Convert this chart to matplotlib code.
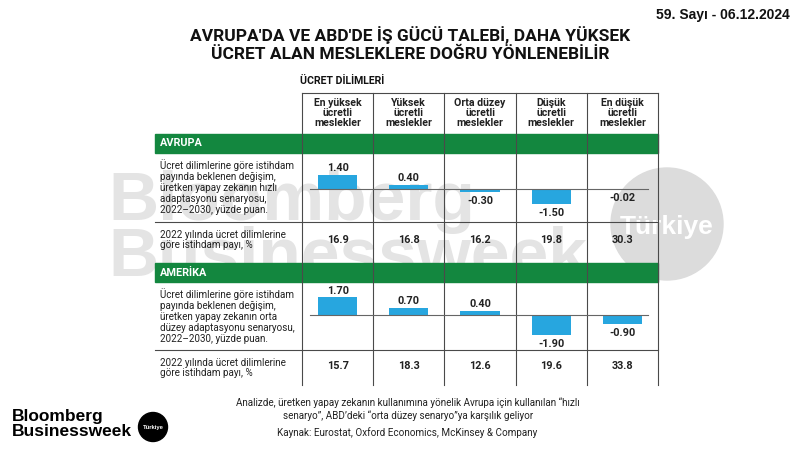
"""Bloomberg Businessweek Türkiye: expected shift in employment share by wage band."""

import matplotlib
matplotlib.use("Agg")
import matplotlib.pyplot as plt
from matplotlib import font_manager
from matplotlib.patches import Rectangle, Circle

# ---- data ----
categories = ["En yüksek\nücretli\nmeslekler", "Yüksek\nücretli\nmeslekler",
              "Orta düzey\nücretli\nmeslekler", "Düşük\nücretli\nmeslekler",
              "En düşük\nücretli\nmeslekler"]
eu_change = [1.40, 0.40, -0.30, -1.50, -0.02]
eu_share = [16.9, 16.8, 16.2, 19.8, 30.3]
us_change = [1.70, 0.70, 0.40, -1.90, -0.90]
us_share = [15.7, 18.3, 12.6, 19.6, 33.8]

eu_label = ("Ücret dilimlerine göre istihdam\npayında beklenen değişim,\n"
            "üretken yapay zekanın hızlı\nadaptasyonu senaryosu,\n2022–2030, yüzde puan.")
us_label = ("Ücret dilimlerine göre istihdam\npayında beklenen değişim,\n"
            "üretken yapay zekanın orta\ndüzey adaptasyonu senaryosu,\n2022–2030, yüzde puan.")
share_label = "2022 yılında ücret dilimlerine\ngöre istihdam payı, %"

title = "AVRUPA'DA VE ABD'DE İŞ GÜCÜ TALEBİ, DAHA YÜKSEK\nÜCRET ALAN MESLEKLERE DOĞRU YÖNLENEBİLİR"
issue = "59. Sayı - 06.12.2024"
note = ("Analizde, üretken yapay zekanın kullanımına yönelik Avrupa için kullanılan “hızlı\n"
        "senaryo”, ABD’deki “orta düzey senaryo”ya karşılık geliyor")
source = "Kaynak: Eurostat, Oxford Economics, McKinsey & Company"

# ---- style ----
available = {f.name for f in font_manager.fontManager.ttflist}
narrow = "Liberation Sans Narrow" if "Liberation Sans Narrow" in available else "Roboto"
plt.rcParams["font.family"] = [narrow, "DejaVu Sans"]

GREEN = "#13873f"
BLUE = "#27a6df"
LINE = "#4a4a4a"
TEXT = "#222222"
WATER = "#e4e4e4"

W, H = 800, 450
fig = plt.figure(figsize=(8, 4.5), dpi=100)
ax = fig.add_axes([0, 0, 1, 1])
ax.set_xlim(0, W)
ax.set_ylim(H, 0)
ax.axis("off")

# table geometry (pixels)
col_x0, col_w = 302, 71.2
n = len(categories)
col_centers = [col_x0 + col_w * (i + 0.5) for i in range(n)]
col_edges = [col_x0 + col_w * i for i in range(n + 1)]
left_x = 155
right_x = col_edges[-1]
head_top = 93

# watermark
ax.text(108, 202, "Bloomberg", fontsize=50, fontweight="bold", color=WATER,
        family="Liberation Sans", va="center", ha="left", zorder=0)
ax.text(108, 257, "Businessweek", fontsize=50, fontweight="bold", color=WATER,
        family="Liberation Sans", va="center", ha="left", zorder=0)
ax.add_patch(Circle((667, 224), 56, color="#dcdcdc", zorder=0))
ax.text(667, 227, "Türkiye", fontsize=19, fontweight="bold", color="white",
        family="Liberation Sans", ha="center", va="center", zorder=0)

# header texts
ax.text(790, 15, issue, fontsize=10, fontweight="bold", ha="right", va="center",
        color="#111111", family="Liberation Sans")
ax.text(410, 44, title, fontsize=12.5, fontweight="bold", ha="center", va="center",
        color="#111111", linespacing=1.2)
ax.text(300, 81, "ÜCRET DİLİMLERİ", fontsize=7.6, fontweight="bold", ha="left",
        va="center", color="#111111")

for cx, cat in zip(col_centers, categories):
    ax.text(cx, 113, cat, fontsize=7.6, fontweight="bold", ha="center", va="center",
            color=TEXT, linespacing=1.05)

# grid lines
ax.plot([col_x0, right_x], [head_top, head_top], color=LINE, lw=0.8, zorder=3)
for xe in col_edges:
    ax.plot([xe, xe], [head_top, 385], color=LINE, lw=0.8, zorder=3)
for yl in (222, 350):
    ax.plot([left_x, right_x], [yl, yl], color=LINE, lw=0.8, zorder=3)

# green section bands
for y0, y1, name in ((134, 153, "AVRUPA"), (263, 282, "AMERİKA")):
    ax.add_patch(Rectangle((left_x, y0), right_x - left_x, y1 - y0, color=GREEN,
                           zorder=2))
    ax.text(left_x + 5, (y0 + y1) / 2, name, fontsize=7.8, fontweight="bold",
            color="white", va="center", ha="left", zorder=4)

# row labels and share values
label_kw = dict(fontsize=7.1, color=TEXT, va="center", ha="left", linespacing=1.1)
ax.text(160, 187, eu_label, **label_kw)
ax.text(160, 240, share_label, **label_kw)
ax.text(160, 316, us_label, **label_kw)
ax.text(160, 368, share_label, **label_kw)
for cx, v in zip(col_centers, eu_share):
    ax.text(cx, 240, f"{v:.1f}", fontsize=7.8, fontweight="bold", ha="center",
            va="center", color=TEXT)
for cx, v in zip(col_centers, us_share):
    ax.text(cx, 366, f"{v:.1f}", fontsize=7.8, fontweight="bold", ha="center",
            va="center", color=TEXT)


def bar_panel(values, top, bottom, base):
    """Bar strip spanning the five columns; base is the zero line in pixels."""
    scale = 10.3  # pixels per percentage point
    bax = fig.add_axes([col_x0 / W, 1 - bottom / H, (right_x - col_x0) / W,
                        (bottom - top) / H])
    bax.set_xlim(-0.5, n - 0.5)
    bax.set_ylim(-(bottom - base) / scale, (base - top) / scale)
    bax.axis("off")
    bax.patch.set_alpha(0)
    bax.bar(range(n), values, width=0.55, color=BLUE, zorder=2)
    bax.axhline(0, xmin=0.022, xmax=0.972, color="#666666", lw=0.8, zorder=3)
    for i, v in enumerate(values):
        off = 5 if v > 0 else -6.5
        bax.annotate(f"{v:.2f}", (i, v), xytext=(0, off), textcoords="offset points",
                     ha="center", va="center", fontsize=7.8, fontweight="bold",
                     color=TEXT)


bar_panel(eu_change, 153, 222, 189)
bar_panel(us_change, 282, 350, 315)

# footnotes
ax.text(408, 409, note, fontsize=7.1, ha="center", va="center", color=TEXT,
        linespacing=1.3)
ax.text(407, 433, source, fontsize=7.1, ha="center", va="center", color=TEXT)

# logo
ax.text(12, 424, "Bloomberg\nBusinessweek", fontsize=12.5, fontweight="bold",
        family="Liberation Sans", ha="left", va="center", color="black",
        linespacing=1.0)
ax.add_patch(Circle((153, 427), 14.5, color="black"))
ax.text(153, 427, "Türkiye", fontsize=4.2, fontweight="bold", color="white",
        ha="center", va="center", family="Liberation Sans")

fig.savefig("out.png", dpi=100)
